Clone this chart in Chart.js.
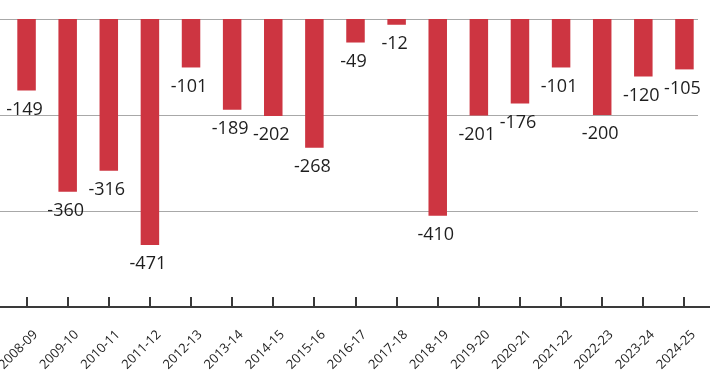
<!DOCTYPE html>
<html>
<head>
<meta charset="utf-8">
<script src="https://cdn.jsdelivr.net/npm/chart.js@4/dist/chart.umd.min.js"></script>
<style>
html,body{margin:0;padding:0;background:#fff;}
#wrap{position:relative;width:719px;height:381px;}
</style>
</head>
<body>
<div id="wrap"><canvas id="c" width="719" height="381"></canvas></div>
<script>
const categories = ["2008-09","2009-10","2010-11","2011-12","2012-13","2013-14","2014-15","2015-16","2016-17","2017-18","2018-19","2019-20","2020-21","2021-22","2022-23","2023-24","2024-25"];
const values = [-149,-360,-316,-471,-101,-189,-202,-268,-49,-12,-410,-201,-176,-101,-200,-120,-105];
const gridValues = [0,-200,-400];
const axisMin = -600;
const axisMax = 0;

const BAR = '#cd3541';
const TEXT = '#1e1e1e';

const decor = {
  id: 'decor',
  beforeDatasetsDraw(chart) {
    const ctx = chart.ctx, y = chart.scales.y;
    ctx.save();
    ctx.strokeStyle = '#a8a8a8';
    ctx.lineWidth = 1;
    gridValues.forEach(v => {
      const py = Math.round(y.getPixelForValue(v)) + 0.5;
      ctx.beginPath(); ctx.moveTo(0, py); ctx.lineTo(698, py); ctx.stroke();
    });
    ctx.restore();
  },
  afterDatasetsDraw(chart) {
    const ctx = chart.ctx, y = chart.scales.y, x = chart.scales.x;
    ctx.save();
    const py = Math.round(y.getPixelForValue(axisMin));
    ctx.strokeStyle = '#3a3a3a';
    ctx.lineWidth = 2;
    ctx.beginPath(); ctx.moveTo(0, py); ctx.lineTo(710, py); ctx.stroke();
    categories.forEach((c, i) => {
      const px = Math.round(x.getPixelForTick(i));
      ctx.beginPath(); ctx.moveTo(px, py); ctx.lineTo(px, py - 10); ctx.stroke();
    });
    ctx.fillStyle = TEXT;
    ctx.font = '18px "Open Sans", sans-serif';
    ctx.textAlign = 'center';
    ctx.textBaseline = 'middle';
    const meta = chart.getDatasetMeta(0);
    meta.data.forEach((bar, i) => {
      ctx.fillText(String(values[i]), bar.x - 2, bar.y + 19);
    });
    ctx.restore();
  }
};

new Chart(document.getElementById('c'), {
  type: 'bar',
  data: {
    labels: categories,
    datasets: [{
      data: values,
      backgroundColor: BAR,
      borderWidth: 0,
      barPercentage: 0.45,
      categoryPercentage: 1
    }]
  },
  options: {
    responsive: false,
    animation: false,
    devicePixelRatio: 1,
    layout: { padding: { left: 6, right: 14, top: 19, bottom: 0 } },
    plugins: { legend: { display: false }, tooltip: { enabled: false } },
    scales: {
      y: {
        display: false,
        min: axisMin,
        max: axisMax
      },
      x: {
        grid: { display: false },
        border: { display: false },
        afterFit(s) { s.height = 74; s.paddingLeft = 0; s.paddingRight = 0; },
        ticks: {
          minRotation: 45,
          maxRotation: 45,
          autoSkip: false,
          padding: 12,
          labelOffset: 9,
          color: TEXT,
          font: { family: '"Open Sans", sans-serif', size: 13 }
        }
      }
    }
  },
  plugins: [decor]
});
</script>
</body>
</html>
